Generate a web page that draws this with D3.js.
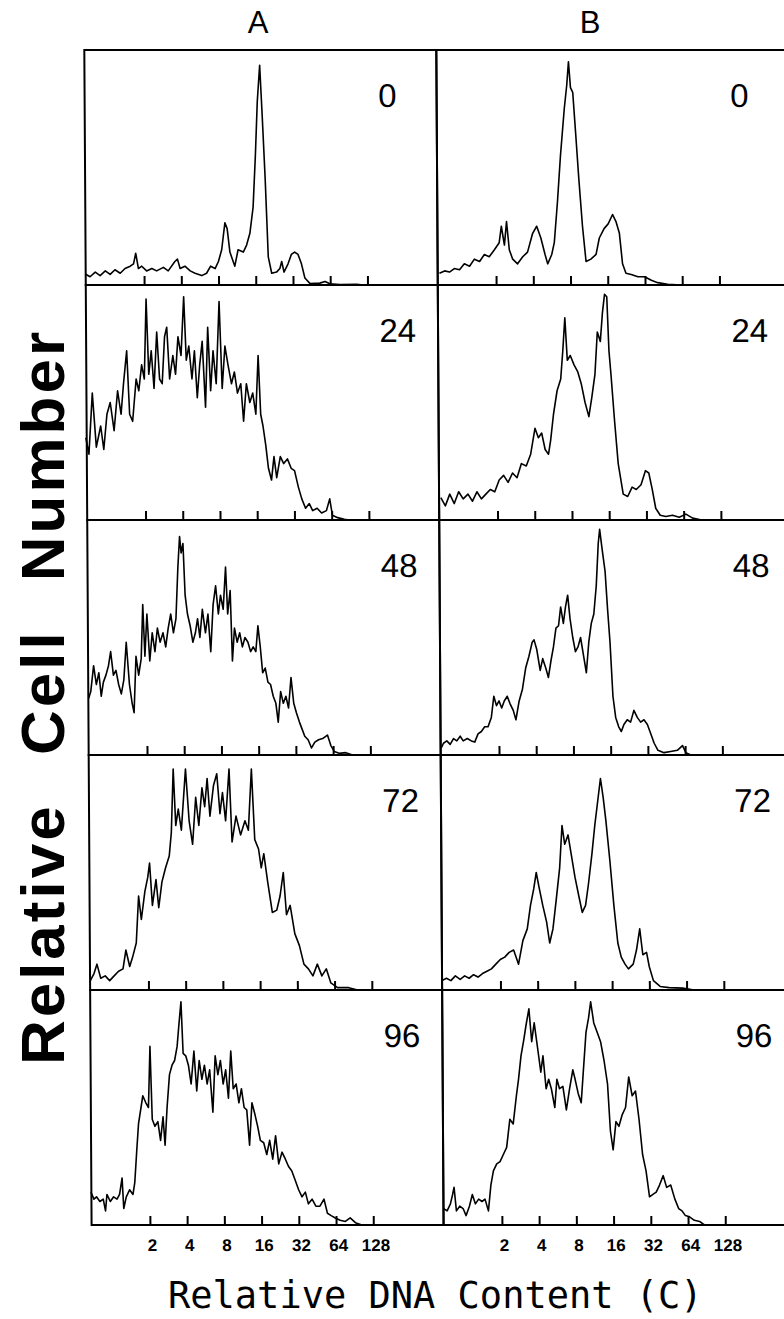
<!DOCTYPE html>
<html>
<head>
<meta charset="utf-8">
<script src="https://cdn.jsdelivr.net/npm/d3@7"></script>
<style>
body { margin: 0; background: #fff; }
</style>
</head>
<body>
<div id="chart"></div>
<script>
const columns = ["A", "B"]
const hours = ["0", "24", "48", "72", "96"]
const tickValues = [2, 4, 8, 16, 32, 64, 128]

// histogram traces: [log2 of DNA content (C), % of panel height]
const a0 = [[-0.58,4.7],[-0.45,3.5],[-0.31,5.5],[-0.18,4],[-0.04,6],[0.09,4.5],[0.22,6.5],[0.36,5],[0.49,7],[0.63,8],[0.72,9],[0.78,13.5],[0.85,7],[0.94,8],[1.07,6],[1.21,7],[1.34,6],[1.52,7.5],[1.65,6],[1.83,10],[1.9,11],[1.97,7],[2.1,8],[2.24,6],[2.37,5],[2.55,4],[2.68,5],[2.79,8],[2.91,7],[3.0,10],[3.09,15],[3.18,26.5],[3.24,24],[3.31,14],[3.44,8],[3.53,15],[3.67,14],[3.76,17],[3.85,22],[3.94,33],[4.01,55],[4.07,78],[4.14,93.5],[4.2,72],[4.27,45],[4.34,12],[4.43,5],[4.56,5.5],[4.65,7],[4.7,10],[4.76,5.5],[4.87,9],[4.96,13],[5.05,14],[5.14,13],[5.23,9],[5.32,3],[5.46,0.6],[5.72,0.8],[5.86,1.5],[5.99,0.5],[6.26,0.2],[6.71,0.3],[6.89,0]]
const a24 = [[-0.59,35],[-0.51,28],[-0.41,54],[-0.31,31],[-0.19,40],[-0.11,30],[-0.02,45],[0.07,50],[0.17,38],[0.27,55],[0.36,45],[0.43,58],[0.52,72],[0.59,45],[0.67,42],[0.77,60],[0.84,55],[0.92,66],[0.99,60],[1.05,94],[1.11,62],[1.18,72],[1.25,56],[1.33,80],[1.4,60],[1.47,58],[1.54,78],[1.6,82],[1.67,60],[1.76,70],[1.83,62],[1.9,78],[1.98,70],[2.06,95],[2.12,68],[2.19,74],[2.27,60],[2.34,72],[2.41,52],[2.48,66],[2.55,76],[2.63,48],[2.7,82],[2.77,55],[2.84,72],[2.92,58],[3.01,93],[3.08,56],[3.16,74],[3.24,66],[3.33,58],[3.41,63],[3.49,54],[3.58,58],[3.65,42],[3.73,58],[3.82,50],[3.9,54],[3.98,45],[4.05,70],[4.11,45],[4.17,40],[4.24,32],[4.31,22],[4.39,17],[4.46,27],[4.53,18],[4.63,27],[4.72,24],[4.82,26],[4.92,22],[5.01,21],[5.11,14],[5.2,9],[5.3,5],[5.4,7],[5.49,4],[5.61,5],[5.73,3],[5.86,4],[5.95,9],[6.02,2],[6.16,1],[6.34,0.3],[6.46,0]]
const a48 = [[-0.56,24],[-0.5,27],[-0.42,38],[-0.35,30],[-0.28,35],[-0.22,25],[-0.16,31],[-0.09,34],[-0.02,38],[0.04,44],[0.11,34],[0.18,36],[0.25,30],[0.32,26],[0.39,32],[0.46,48],[0.54,30],[0.61,22],[0.66,18],[0.72,42],[0.79,34],[0.86,41],[0.91,64],[0.96,42],[1.02,60],[1.09,40],[1.16,52],[1.23,44],[1.3,54],[1.37,48],[1.45,52],[1.52,46],[1.59,54],[1.66,60],[1.73,52],[1.8,58],[1.86,80],[1.91,93],[1.95,86],[2.0,90],[2.05,68],[2.11,60],[2.18,55],[2.25,48],[2.32,52],[2.38,58],[2.44,50],[2.51,62],[2.59,52],[2.66,60],[2.73,44],[2.8,64],[2.87,72],[2.94,60],[3.0,68],[3.07,62],[3.14,80],[3.19,60],[3.26,70],[3.31,40],[3.37,54],[3.44,48],[3.51,52],[3.58,46],[3.65,50],[3.73,48],[3.8,44],[3.87,46],[3.94,44],[4.0,55],[4.06,46],[4.12,35],[4.19,37],[4.26,31],[4.33,30],[4.4,25],[4.47,22],[4.53,14],[4.6,27],[4.67,22],[4.74,25],[4.81,20],[4.88,33],[4.95,22],[5.02,18],[5.1,14],[5.17,11],[5.24,8],[5.33,6.5],[5.42,3],[5.51,5.5],[5.61,6.5],[5.72,7],[5.85,8.5],[5.94,4],[6.03,1.5],[6.16,0.7],[6.34,1],[6.52,0]]
const a72 = [[-0.56,4],[-0.46,7],[-0.38,11],[-0.28,5],[-0.16,6],[-0.04,4],[0.08,6],[0.2,8],[0.32,9],[0.4,17],[0.5,10],[0.58,14],[0.68,20],[0.75,40],[0.82,30],[0.92,42],[1.0,48],[1.05,54],[1.12,36],[1.22,47],[1.29,35],[1.38,46],[1.48,52],[1.58,57],[1.64,67],[1.7,94],[1.76,70],[1.83,77],[1.91,68],[2.03,94],[2.12,72],[2.21,62],[2.3,82],[2.38,70],[2.47,86],[2.54,78],[2.61,90],[2.68,74],[2.78,87],[2.87,92],[2.95,75],[3.02,84],[3.1,72],[3.2,94],[3.27,63],[3.38,74],[3.5,66],[3.62,72],[3.71,68],[3.8,94],[3.88,64],[3.98,60],[4.05,52],[4.12,58],[4.22,46],[4.34,33],[4.46,34],[4.55,40],[4.64,50],[4.72,32],[4.82,36],[4.94,24],[5.06,19],[5.18,11],[5.3,9],[5.42,6],[5.54,11],[5.66,6],[5.78,9],[5.9,3],[6.08,1],[6.38,1],[6.62,0]]
const a96 = [[-0.58,14],[-0.5,11],[-0.43,12],[-0.34,10],[-0.25,11],[-0.19,6],[-0.15,13],[-0.06,10],[0.03,12],[0.12,11],[0.19,13],[0.26,20],[0.3,7],[0.37,12],[0.46,15],[0.55,13],[0.6,18],[0.66,32],[0.71,43],[0.78,50],[0.83,55],[0.91,52],[0.98,50],[1.03,76],[1.08,45],[1.15,42],[1.23,44],[1.3,36],[1.37,46],[1.42,34],[1.48,50],[1.55,64],[1.62,68],[1.69,70],[1.76,76],[1.81,85],[1.87,95],[1.92,73],[1.99,72],[2.06,68],[2.13,60],[2.21,74],[2.28,57],[2.35,70],[2.42,62],[2.49,68],[2.56,60],[2.63,66],[2.71,48],[2.78,72],[2.85,64],[2.92,70],[2.99,60],[3.06,66],[3.13,54],[3.2,74],[3.26,58],[3.34,60],[3.41,52],[3.48,58],[3.55,50],[3.62,49],[3.69,34],[3.76,52],[3.84,47],[3.91,42],[3.98,36],[4.07,35],[4.15,30],[4.23,36],[4.31,28],[4.39,38],[4.47,26],[4.56,31],[4.65,28],[4.73,25],[4.82,23],[4.91,19],[5.0,15],[5.09,12],[5.18,14],[5.26,9],[5.36,11],[5.46,8],[5.57,8],[5.68,11],[5.77,5],[5.87,4],[5.98,3],[6.11,2],[6.25,1.5],[6.38,3],[6.52,1],[6.69,0]]

const b0 = [[-0.52,5],[-0.38,6],[-0.25,5.5],[-0.12,7],[0.02,6.5],[0.15,9],[0.29,8],[0.42,11],[0.56,10],[0.69,13],[0.82,12],[0.96,15],[1.09,18],[1.15,25],[1.23,17],[1.29,27],[1.36,15],[1.45,11],[1.58,9],[1.72,12],[1.85,14],[1.99,22],[2.1,25],[2.21,20],[2.32,13],[2.39,9],[2.5,13],[2.57,18],[2.66,35],[2.75,55],[2.86,75],[2.93,85],[2.98,95],[3.03,84],[3.09,82],[3.16,65],[3.24,45],[3.33,25],[3.42,10],[3.55,11],[3.69,13],[3.78,20],[3.91,24],[4.02,26],[4.14,30],[4.23,27],[4.32,22],[4.4,9],[4.49,5],[4.63,4.5],[4.81,3.5],[4.99,3.5],[5.17,2],[5.34,1],[5.61,0.3],[5.97,0]]
const b24 = [[-0.52,9.5],[-0.4,6],[-0.28,11],[-0.16,7],[-0.04,12],[0.08,9],[0.21,11],[0.33,8],[0.45,12],[0.57,9],[0.69,11],[0.81,13],[0.93,12],[1.05,17],[1.17,19],[1.29,16],[1.41,20],[1.53,18],[1.65,24],[1.78,23],[1.9,28],[2.02,39],[2.11,35],[2.2,37],[2.29,30],[2.38,28],[2.44,34],[2.52,45],[2.62,55],[2.72,60],[2.78,72],[2.84,86],[2.9,68],[2.98,70],[3.08,66],[3.18,63],[3.27,58],[3.37,50],[3.47,44],[3.55,52],[3.64,62],[3.71,80],[3.79,76],[3.85,88],[3.91,96],[3.97,95],[4.02,72],[4.07,62],[4.16,42],[4.25,24],[4.38,11],[4.5,10],[4.62,14],[4.73,13],[4.86,15],[4.98,21],[5.07,20],[5.16,13],[5.25,5],[5.37,2],[5.52,1.5],[5.7,2],[5.88,1.2],[6.06,2.5],[6.24,0.8],[6.48,0]]
const b48 = [[-0.55,3],[-0.49,5],[-0.4,6],[-0.31,4.5],[-0.22,7],[-0.13,6],[-0.04,8],[0.04,6],[0.15,7],[0.26,6],[0.35,5.5],[0.44,9],[0.53,10],[0.62,12],[0.71,12],[0.8,16],[0.87,25],[0.94,21],[1.01,23],[1.08,20],[1.15,23],[1.23,25],[1.3,22],[1.39,19],[1.46,15],[1.55,23],[1.64,28],[1.73,37],[1.82,42],[1.91,48],[1.96,49],[2.03,45],[2.12,36],[2.19,41],[2.27,37],[2.34,33],[2.41,40],[2.48,46],[2.55,54],[2.62,55],[2.68,63],[2.75,56],[2.81,63],[2.87,68],[2.93,58],[3.0,50],[3.07,44],[3.14,46],[3.21,50],[3.29,42],[3.36,35],[3.43,48],[3.5,56],[3.57,60],[3.64,72],[3.7,90],[3.74,96],[3.8,88],[3.88,78],[3.94,62],[4.0,48],[4.07,25],[4.14,16],[4.22,12],[4.29,10],[4.36,13],[4.45,15],[4.54,14],[4.63,19],[4.72,16],[4.81,14],[4.9,15],[4.99,13],[5.08,9],[5.17,5],[5.27,2],[5.43,1],[5.61,1.5],[5.79,2],[5.93,4],[6.02,1],[6.15,0]]
const b72 = [[-0.57,4],[-0.45,5],[-0.33,4],[-0.21,6],[-0.08,4.5],[0.04,6],[0.16,5],[0.28,6.5],[0.4,5.5],[0.52,7],[0.64,8],[0.76,9],[0.88,11],[1.0,13],[1.12,14],[1.24,16],[1.36,17],[1.49,11],[1.61,21],[1.73,26],[1.82,36],[1.91,43],[1.98,50],[2.05,44],[2.15,36],[2.25,29],[2.33,20],[2.42,26],[2.51,38],[2.61,52],[2.68,70],[2.75,62],[2.84,66],[2.92,58],[3.02,48],[3.12,40],[3.21,33],[3.3,36],[3.38,45],[3.48,58],[3.56,70],[3.64,80],[3.72,90],[3.79,82],[3.86,72],[3.96,55],[4.06,36],[4.16,20],[4.25,14],[4.35,11],[4.44,9],[4.57,11],[4.66,17],[4.75,26],[4.83,15],[4.93,16],[5.0,10],[5.11,4],[5.29,1.5],[5.53,1],[5.89,0.8],[6.2,0]]
const b96 = [[-0.56,7],[-0.47,6],[-0.38,9],[-0.32,13],[-0.28,16],[-0.22,6],[-0.13,8],[-0.04,7],[0.04,4],[0.13,8],[0.21,13],[0.29,9],[0.38,11],[0.47,10],[0.55,11],[0.64,6],[0.71,17],[0.78,23],[0.87,26],[0.96,27],[1.05,30],[1.14,33],[1.23,45],[1.32,43],[1.41,55],[1.47,62],[1.54,72],[1.62,79],[1.68,85],[1.76,92],[1.83,78],[1.9,86],[1.99,75],[2.07,65],[2.13,72],[2.21,58],[2.28,62],[2.35,58],[2.44,50],[2.5,62],[2.57,58],[2.66,59],[2.75,49],[2.84,58],[2.93,66],[2.99,62],[3.07,56],[3.15,52],[3.21,65],[3.29,82],[3.36,88],[3.42,95],[3.5,86],[3.59,82],[3.68,78],[3.77,70],[3.86,60],[3.93,40],[4.0,32],[4.08,44],[4.16,42],[4.25,47],[4.34,50],[4.43,63],[4.52,55],[4.61,57],[4.7,45],[4.79,30],[4.88,23],[4.97,12],[5.06,13],[5.15,14],[5.24,17],[5.34,21],[5.43,16],[5.54,17],[5.65,11],[5.75,7],[5.84,6],[5.93,4],[6.04,3.5],[6.17,2],[6.31,1.5],[6.44,0]]

const traces = {A: [a0, a24, a48, a72, a96], B: [b0, b24, b48, b72, b96]}

const width = 784
const height = 1319
const panelW = 352
const colLeft = {A: 84, B: 436}

const svg = d3.select("#chart").append("svg")
    .attr("width", width)
    .attr("height", height)
    .style("font-family", "'Liberation Sans', Arial, sans-serif")

// the scanned figure leans slightly, so the panel block is sheared a little
const plot = svg.append("g").attr("transform", "skewX(0.355)")

const rowScale = d3.scaleBand().domain(hours).range([50, 1225])
const y = d3.scaleLinear().domain([0, 100])

const line = d3.line()

columns.forEach(col => {
    const left = colLeft[col]
    const x = d3.scaleLog().base(2)
        .domain([2 ** -0.567, 2 ** 8.888])
        .range([left, left + panelW])

    hours.forEach((h, i) => {
        const top = rowScale(h)
        const bottom = top + rowScale.bandwidth()
        y.range([bottom, top])
        const g = plot.append("g")

        g.append("rect")
            .attr("x", left).attr("y", top)
            .attr("width", panelW).attr("height", rowScale.bandwidth())
            .attr("fill", "none").attr("stroke", "#000").attr("stroke-width", 2)

        const ticks = g.append("g")
            .attr("transform", "translate(0," + bottom + ")")
            .call(d3.axisTop(x).tickValues(tickValues).tickSize(9).tickFormat(""))
        ticks.select(".domain").remove()
        ticks.selectAll("line").attr("stroke", "#000").attr("stroke-width", 2)

        g.append("path")
            .datum(traces[col][i])
            .attr("d", line.x(d => x(2 ** d[0])).y(d => y(d[1])))
            .attr("fill", "none")
            .attr("stroke", "#000")
            .attr("stroke-width", 1.6)
            .attr("stroke-linejoin", "round")

        g.append("text")
            .attr("x", left + panelW - 22 - (2 - h.length) * 18)
            .attr("y", top + 57)
            .attr("text-anchor", "end")
            .attr("font-size", 33)
            .text(h)

        if (i === hours.length - 1) {
            const labels = g.append("g")
                .attr("transform", "translate(2," + bottom + ")")
                .call(d3.axisBottom(x).tickValues(tickValues).tickSize(0).tickPadding(14)
                    .tickFormat(d3.format("d")))
            labels.select(".domain").remove()
            labels.selectAll("text")
                .attr("font-family", "'Liberation Sans', Arial, sans-serif")
                .attr("font-size", 17)
                .attr("font-weight", "bold")
                .attr("fill", "#000")
        }
    })
})

svg.append("text")
    .attr("x", 258).attr("y", 33)
    .attr("text-anchor", "middle")
    .attr("font-size", 31)
    .text("A")
svg.append("text")
    .attr("x", 590).attr("y", 33)
    .attr("text-anchor", "middle")
    .attr("font-size", 31)
    .text("B")

svg.append("text")
    .attr("transform", "translate(64,697) rotate(-90)")
    .attr("text-anchor", "middle")
    .attr("font-size", 62)
    .attr("font-weight", "bold")
    .attr("letter-spacing", 3)
    .attr("word-spacing", 28)
    .text("Relative Cell Number")

svg.append("text")
    .attr("x", 168).attr("y", 1308)
    .attr("font-family", "'DejaVu Sans Mono', monospace")
    .attr("font-size", 37)
    .text("Relative DNA Content (C)")
</script>
</body>
</html>
